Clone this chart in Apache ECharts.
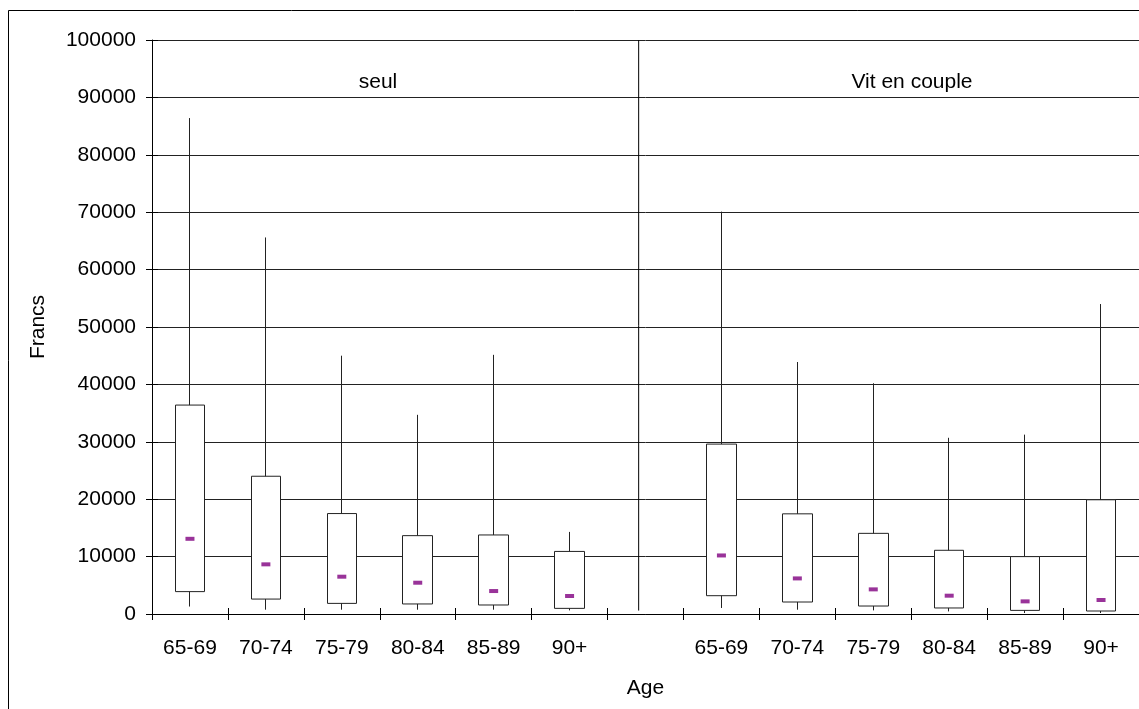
<!DOCTYPE html>
<html>
<head>
<meta charset="utf-8">
<script src="https://cdn.jsdelivr.net/npm/echarts@6/dist/echarts.min.js"></script>
<style>html,body{margin:0;padding:0;background:#fff}#c{width:1139px;height:709px}</style>
</head>
<body>
<div id="c"></div>
<script>
// ---- data ----
const ageGroups = ['65-69', '70-74', '75-79', '80-84', '85-89', '90+'];
const panelLabels = ['seul', 'Vit en couple'];
const yTicks = { min: 0, max: 100000, interval: 10000 };

const seulLow    = [1300, 750, 750, 750, 750, 630];
const seulQ1     = [3900, 2600, 1850, 1750, 1570, 980];
const seulMedian = [13100, 8650, 6500, 5450, 4000, 3140];
const seulQ3     = [36400, 24000, 17500, 13650, 13770, 10900];
const seulHigh   = [86400, 65600, 45000, 34700, 45150, 14300];

const coupleLow    = [1050, 750, 630, 450, 170, 170];
const coupleQ1     = [3190, 2090, 1390, 1050, 630, 520];
const coupleMedian = [10200, 6200, 4290, 3190, 2200, 2440];
const coupleQ3     = [29600, 17450, 14050, 11100, 10000, 19900];
const coupleHigh   = [70100, 43900, 40200, 30700, 31250, 54000];

// separator between the two panels (category units from the axis start, value range)
const separatorPos = 6.41;
const separatorLow = 600;
const separatorHigh = 100000;

// ---- build ----
const categories = ageGroups.concat([''], ageGroups);
const candle = [];
const med = [];
function addGroup(lo, q1, md, q3, hi) {
  for (let i = 0; i < lo.length; i++) {
    candle.push([q1[i], q3[i], lo[i], hi[i]]);
    med.push(md[i]);
  }
}
addGroup(seulLow, seulQ1, seulMedian, seulQ3, seulHigh);
candle.push('-'); med.push('-');
addGroup(coupleLow, coupleQ1, coupleMedian, coupleQ3, coupleHigh);

const FONT = 'Liberation Sans, Arial, sans-serif';
const chart = echarts.init(document.getElementById('c'));
chart.setOption({
  animation: false,
  backgroundColor: '#fff',
  textStyle: { fontFamily: FONT },
  graphic: [{
    type: 'rect', silent: true, z: -1,
    shape: { x: 8.5, y: 10.5, width: 1200, height: 800 },
    style: { fill: 'none', stroke: '#000', lineWidth: 1 }
  }],
  title: [
    { text: panelLabels[0], left: 378, top: 72, textAlign: 'center', padding: 0,
      textStyle: { fontFamily: FONT, fontSize: 21, fontWeight: 'normal', color: '#000' } },
    { text: panelLabels[1], left: 912, top: 72, textAlign: 'center', padding: 0,
      textStyle: { fontFamily: FONT, fontSize: 21, fontWeight: 'normal', color: '#000' } }
  ],
  grid: { left: 152, top: 40, width: 988, height: 574, containLabel: false },
  xAxis: [
    {
      type: 'category', data: categories, boundaryGap: true,
      name: 'Age', nameLocation: 'middle', nameGap: 64,
      nameTextStyle: { fontFamily: FONT, fontSize: 21, color: '#000' },
      axisLine: { lineStyle: { color: '#000', width: 1 } },
      axisTick: { show: true, interval: 0, length: 6, lineStyle: { color: '#000' } },
      axisLabel: { interval: 0, margin: 24, fontFamily: FONT, fontSize: 21, color: '#000' },
      splitLine: { show: false }
    },
    {
      type: 'category', data: categories, boundaryGap: true, position: 'bottom', offset: 0,
      axisLine: { show: false },
      axisTick: { show: true, inside: true, interval: 0, length: 6, lineStyle: { color: '#000' } },
      axisLabel: { show: false }, splitLine: { show: false }
    },
    {
      type: 'value', min: 0, max: categories.length, show: false
    }
  ],
  yAxis: [
    {
      type: 'value', min: yTicks.min, max: yTicks.max, interval: yTicks.interval,
      name: 'Francs', nameLocation: 'middle', nameGap: 103, nameRotate: 90,
      nameTextStyle: { fontFamily: FONT, fontSize: 21, color: '#000' },
      axisLine: { show: true, lineStyle: { color: '#000', width: 1 } },
      axisTick: { show: true, length: 6, lineStyle: { color: '#000' } },
      axisLabel: { margin: 16, fontFamily: FONT, fontSize: 21, color: '#000', formatter: v => String(v) },
      splitLine: { show: true, lineStyle: { color: '#222', width: 1 } }
    },
    {
      type: 'value', min: yTicks.min, max: yTicks.max, interval: yTicks.interval, position: 'left',
      axisLine: { show: false },
      axisTick: { show: true, inside: true, length: 6, lineStyle: { color: '#000' } },
      axisLabel: { show: false }, splitLine: { show: false }
    }
  ],
  series: [
    {
      type: 'candlestick', xAxisIndex: 0, yAxisIndex: 0, barWidth: 30,
      data: candle,
      itemStyle: { color: '#fff', color0: '#fff', borderColor: '#222', borderColor0: '#222', borderWidth: 1 }
    },
    {
      type: 'scatter', xAxisIndex: 0, yAxisIndex: 0, data: med,
      symbol: 'rect', symbolSize: [9, 4], itemStyle: { color: '#800080' }, z: 5
    },
    {
      type: 'line', xAxisIndex: 2, yAxisIndex: 0, symbol: 'none',
      data: [[separatorPos, separatorLow], [separatorPos, separatorHigh]],
      lineStyle: { color: '#000', width: 1 }
    }
  ]
});
</script>
</body>
</html>
